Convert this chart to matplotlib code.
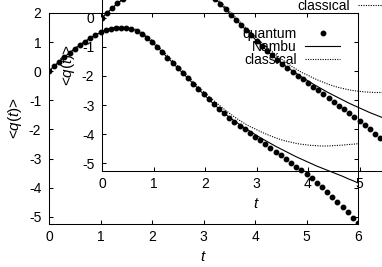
import matplotlib
matplotlib.use('Agg')
import matplotlib.pyplot as plt

plt.rcParams['font.family'] = ['Liberation Sans', 'DejaVu Sans']
plt.rcParams['font.size'] = 10
plt.rcParams['mathtext.fontset'] = 'custom'
plt.rcParams['mathtext.it'] = 'Liberation Sans:italic'
plt.rcParams['mathtext.rm'] = 'Liberation Sans'
plt.rcParams['axes.unicode_minus'] = False

# time grid of the samples
t = [0.0, 0.1, 0.2, 0.3, 0.4, 0.5, 0.6, 0.7, 0.8, 0.9,
     1.0, 1.1, 1.2, 1.3, 1.4, 1.5, 1.6, 1.7, 1.8, 1.9,
     2.0, 2.1, 2.2, 2.3, 2.4, 2.5, 2.6, 2.7, 2.8, 2.9,
     3.0, 3.1, 3.2, 3.3, 3.4, 3.5, 3.6, 3.7, 3.8, 3.9,
     4.0, 4.1, 4.2, 4.3, 4.4, 4.5, 4.6, 4.7, 4.8, 4.9,
     5.0, 5.1, 5.2, 5.3, 5.4, 5.5, 5.6, 5.7, 5.8, 5.9, 6.0]

quantum = [0.00, 0.17, 0.33, 0.49, 0.63, 0.77, 0.90, 1.02, 1.13, 1.24,
           1.33, 1.41, 1.46, 1.49, 1.50, 1.49, 1.46, 1.39, 1.28, 1.15,
           1.00, 0.83, 0.65, 0.47, 0.29, 0.11, -0.07, -0.25, -0.43, -0.61,
           -0.79, -0.96, -1.13, -1.29, -1.45, -1.60, -1.74, -1.87, -2.00, -2.12,
           -2.25, -2.37, -2.50, -2.63, -2.76, -2.89, -3.02, -3.15, -3.28, -3.41,
           -3.54, -3.68, -3.83, -3.99, -4.15, -4.32, -4.49, -4.67, -4.85, -5.03, -5.21]

nambu = [0.00, 0.17, 0.33, 0.49, 0.63, 0.77, 0.90, 1.02, 1.13, 1.24,
         1.33, 1.41, 1.46, 1.49, 1.50, 1.49, 1.46, 1.39, 1.28, 1.15,
         1.00, 0.83, 0.65, 0.47, 0.29, 0.11, -0.07, -0.25, -0.43, -0.61,
         -0.79, -0.96, -1.13, -1.29, -1.44, -1.58, -1.71, -1.83, -1.95, -2.06,
         -2.17, -2.28, -2.38, -2.48, -2.58, -2.67, -2.76, -2.85, -2.94, -3.02,
         -3.10, -3.18, -3.26, -3.33, -3.40, -3.47, -3.54, -3.61, -3.69, -3.76, -3.84]

classical = [0.00, 0.17, 0.33, 0.49, 0.64, 0.78, 0.91, 1.03, 1.14, 1.25,
             1.34, 1.42, 1.48, 1.51, 1.53, 1.52, 1.49, 1.43, 1.33, 1.21,
             1.06, 0.89, 0.72, 0.54, 0.36, 0.18, 0.00, -0.18, -0.36, -0.53,
             -0.70, -0.86, -1.01, -1.16, -1.30, -1.44, -1.57, -1.69, -1.80, -1.90,
             -1.98, -2.07, -2.15, -2.22, -2.29, -2.35, -2.40, -2.44, -2.48, -2.51,
             -2.53, -2.55, -2.56, -2.57, -2.57, -2.56, -2.55, -2.54, -2.52, -2.51, -2.49]

xticks = [0, 1, 2, 3, 4, 5, 6]
yticks = [2, 1, 0, -1, -2, -3, -4, -5]

W, H = 382, 267


def box(l, top, r, b):
    # pixel box -> figure fraction
    return [l / W, 1 - b / H, (r - l) / W, (b - top) / H]


def draw(ax):
    ax.plot(t, quantum, 'o', ms=3.2, color='k', label='quantum')
    ax.plot(t, nambu, '-', color='k', lw=0.8, label='Nambu')
    ax.plot(t, classical, color='k', lw=0.8, ls=(0, (1, 1.2)), label='classical')
    ax.set_xlim(0, 6)
    ax.set_ylim(-5.25, 2)
    ax.set_xticks(xticks)
    ax.set_yticks(yticks)
    ax.tick_params(direction='in', top=True, right=True, length=3, width=0.75, labelsize=10)
    ax.tick_params(axis='x', pad=4.5)
    ax.tick_params(axis='y', pad=5.5)
    for s in ax.spines.values():
        s.set_linewidth(0.75)
    ax.set_xlabel(r'$t$', fontsize=11, va='center')
    ax.xaxis.set_label_coords(0.5, -33 / 211)
    ax.set_ylabel(r'<$q$($t$)>', fontsize=11, va='center')
    ax.yaxis.set_label_coords(-34 / 309, 0.5)
    ax.patch.set_visible(False)
    ax.legend(loc='upper right', bbox_to_anchor=(291 / 309, 1 - 14 / 211),
              markerfirst=False, frameon=False, handlelength=2.5, handletextpad=0.6,
              borderpad=0, borderaxespad=0, labelspacing=-0.08, fontsize=10, numpoints=1)


fig = plt.figure(figsize=(3.82, 2.67), dpi=100)
main = fig.add_axes(box(49, 13, 358, 224))
draw(main)
# the same plot drawn again, shifted up and right
inset = fig.add_axes(box(102, -40.5, 411, 170.5))
draw(inset)

fig.savefig('out.png', dpi=100)
